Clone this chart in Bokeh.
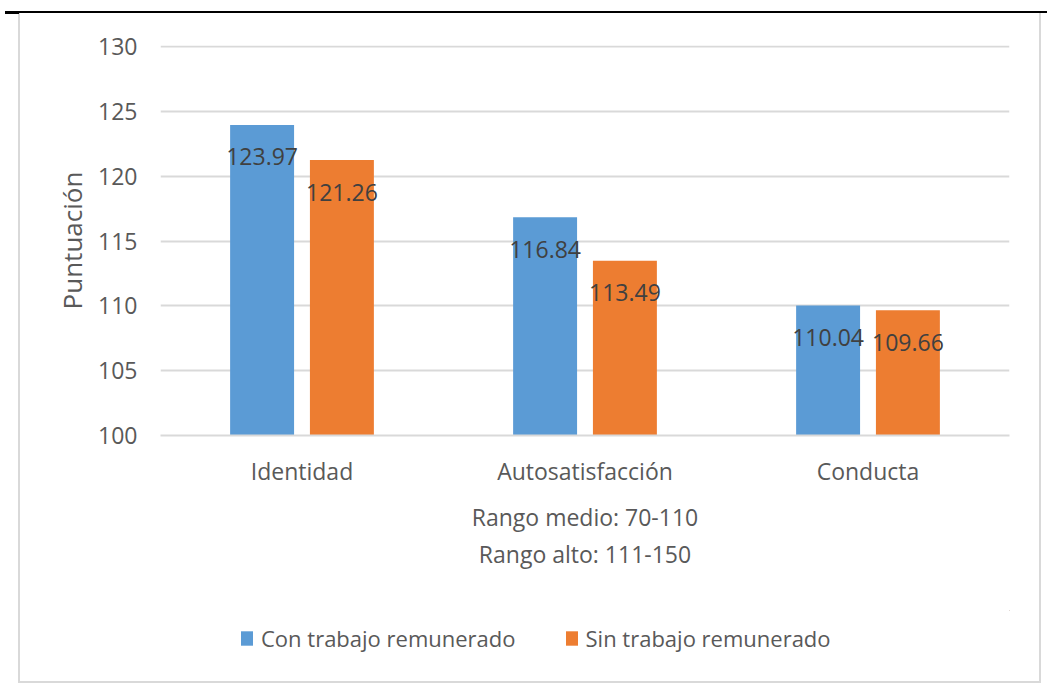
from bokeh.plotting import figure
from bokeh.layouts import column
from bokeh.models import (ColumnDataSource, FactorRange, FixedTicker, LabelSet,
                          Legend, LegendItem, Title)
from bokeh.transform import dodge
from bokeh.core.properties import value
from bokeh.embed import file_html
from bokeh.resources import INLINE

categories = ["Identidad", "Autosatisfacción", "Conducta"]
con_trabajo = [123.97, 116.84, 110.04]
sin_trabajo = [121.26, 113.49, 109.66]
series_names = ["Con trabajo remunerado", "Sin trabajo remunerado"]
y_ticks = [100, 105, 110, 115, 120, 125, 130]
y_start, y_end = 100, 130.1
y_title = "Puntuación"
x_title_1 = "Rango medio: 70-110"
x_title_2 = "Rango alto: 111-150"

FONT = "Open Sans"
GRAY = "#595959"
BLUE = "#5B9BD5"
ORANGE = "#ED7D31"
FS = "23px"

src = ColumnDataSource(dict(
    cat=categories, con=con_trabajo, sin=sin_trabajo,
    con_lbl=[f"{v:.2f}" for v in con_trabajo],
    sin_lbl=[f"{v:.2f}" for v in sin_trabajo],
))

# chart-area border and top rule drawn as CSS background behind transparent canvases
bg = ", ".join([
    "linear-gradient(#000,#000) 5px 11px / 1042px 2px no-repeat",
    "linear-gradient(#000,#000) 5px 11px / 14px 3px no-repeat",
    "linear-gradient(#D9D9D9,#D9D9D9) 18px 13px / 2px 670px no-repeat",
    "linear-gradient(#D9D9D9,#D9D9D9) 1039px 13px / 2px 670px no-repeat",
    "linear-gradient(#D9D9D9,#D9D9D9) 18px 681px / 1023px 2px no-repeat",
    "white",
])

p = figure(width=1047, height=610, x_range=FactorRange(*categories),
           y_range=(y_start, y_end), output_backend="svg", toolbar_location=None,
           min_border_left=160, min_border_right=38, min_border_top=45,
           min_border_bottom=175, background_fill_color="white",
           border_fill_color=None, outline_line_color=None)

r1 = p.vbar(x=dodge("cat", -0.141, range=p.x_range), top="con", bottom=y_start,
            width=0.226, source=src, fill_color=BLUE, line_color=None)
r2 = p.vbar(x=dodge("cat", 0.141, range=p.x_range), top="sin", bottom=y_start,
            width=0.226, source=src, fill_color=ORANGE, line_color=None)

for fld, lbl, off in (("con", "con_lbl", -0.141), ("sin", "sin_lbl", 0.141)):
    p.add_layout(LabelSet(x=dodge("cat", off, range=p.x_range), y=fld, text=lbl,
                          source=src, y_offset=-32, text_align="center",
                          text_baseline="middle", text_font=value(FONT),
                          text_font_size=FS, text_color="#404040"))

# axes
p.yaxis.ticker = FixedTicker(ticks=y_ticks)
p.yaxis.axis_line_color = None
p.yaxis.major_tick_line_color = None
p.yaxis.minor_tick_line_color = None
p.yaxis.major_label_standoff = 17
p.yaxis.major_label_text_font = FONT
p.yaxis.major_label_text_font_size = FS
p.yaxis.major_label_text_color = GRAY
p.yaxis.axis_label = y_title
p.yaxis.axis_label_text_font = FONT
p.yaxis.axis_label_text_font_size = "26px"
p.yaxis.axis_label_text_font_style = "normal"
p.yaxis.axis_label_text_color = GRAY
p.yaxis.axis_label_standoff = 5

p.xaxis.axis_line_color = "#D9D9D9"
p.xaxis.axis_line_width = 2
p.xaxis.major_tick_line_color = None
p.xaxis.minor_tick_line_color = None
p.xaxis.major_label_standoff = 13
p.xaxis.major_label_text_font = FONT
p.xaxis.major_label_text_font_size = FS
p.xaxis.major_label_text_color = GRAY
p.xaxis.axis_label = x_title_1
p.xaxis.axis_label_text_font = FONT
p.xaxis.axis_label_text_font_size = FS
p.xaxis.axis_label_text_font_style = "normal"
p.xaxis.axis_label_text_color = GRAY
p.xaxis.axis_label_standoff = 11

t2 = Title(text=x_title_2, align="center", text_font=FONT, text_font_size=FS,
           text_font_style="normal", text_color=GRAY, standoff=0)
p.add_layout(t2, "below")

p.xgrid.grid_line_color = None
p.ygrid.grid_line_color = "#D9D9D9"
p.ygrid.grid_line_width = 2

# legend strip: a second figure (its frame is aligned with the chart's frame);
# its key bars have zero height, so only their legend swatches are drawn
lg = figure(width=1047, height=83, output_backend="svg", toolbar_location=None,
            x_range=(0, 1), y_range=(0, 1), x_axis_type=None, y_axis_type=None,
            min_border=0, background_fill_color=None, border_fill_color=None,
            outline_line_color=None)
lg.xgrid.grid_line_color = None
lg.ygrid.grid_line_color = None
k1 = lg.vbar(x=con_trabajo, top=con_trabajo, bottom=con_trabajo, width=0.1,
             fill_color=BLUE, line_color=None)
k2 = lg.vbar(x=sin_trabajo, top=sin_trabajo, bottom=sin_trabajo, width=0.1,
             fill_color=ORANGE, line_color=None)
legend = Legend(items=[LegendItem(label=series_names[0], renderers=[k1]),
                       LegendItem(label=series_names[1], renderers=[k2])],
                orientation="horizontal", location=(79, 40),
                margin=0, padding=0, spacing=48, label_standoff=7,
                glyph_width=15, glyph_height=18, label_height=24,
                label_text_font=FONT, label_text_font_size="22px",
                label_text_color=GRAY, border_line_color=None,
                background_fill_alpha=0)
lg.add_layout(legend, "center")

layout = column(p, lg, spacing=0, styles={"background": bg})
open("out.html", "w").write(file_html(layout, INLINE))
